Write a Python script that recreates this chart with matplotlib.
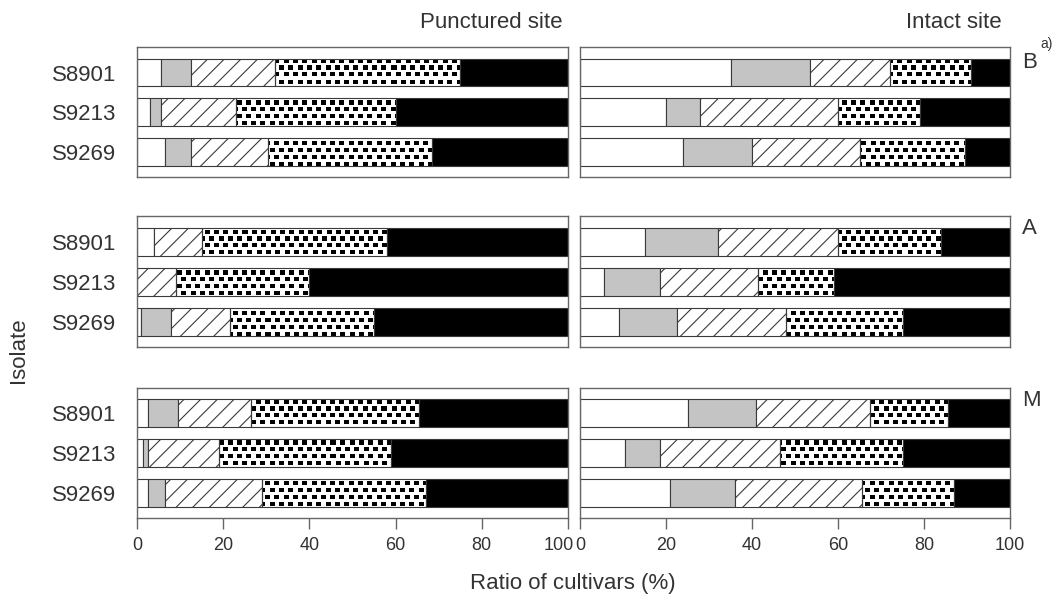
import numpy as np
import matplotlib
matplotlib.use("Agg")
import matplotlib.pyplot as plt
from matplotlib.transforms import ScaledTranslation

# isolates and panel layout: groups (rows) x sites (columns)
isolates = ["S8901", "S9213", "S9269"]
sites = ["Punctured site", "Intact site"]
groups = ["B", "A", "M"]

# percentage of cultivars per reaction class, indexed [group][site][isolate]
open_pct = [
    [[5.5, 3.0, 6.5], [35.0, 20.0, 24.0]],
    [[4.0, 0.0, 1.0], [15.0, 5.5, 9.0]],
    [[2.5, 1.5, 2.5], [25.0, 10.5, 21.0]],
]
grey_pct = [
    [[7.0, 2.5, 6.0], [18.5, 8.0, 16.0]],
    [[0.0, 0.0, 7.0], [17.0, 13.0, 13.5]],
    [[7.0, 1.0, 4.0], [16.0, 8.0, 15.0]],
]
hatched_pct = [
    [[19.5, 17.5, 18.0], [18.5, 32.0, 25.0]],
    [[11.0, 9.0, 13.5], [28.0, 23.0, 25.5]],
    [[17.0, 16.5, 22.5], [26.5, 28.0, 29.5]],
]
checked_pct = [
    [[43.0, 37.0, 38.0], [19.0, 19.0, 24.5]],
    [[43.0, 31.0, 33.5], [24.0, 17.5, 27.0]],
    [[39.0, 40.0, 38.0], [18.0, 28.5, 21.5]],
]
solid_pct = [
    [[25.0, 40.0, 31.5], [9.0, 21.0, 10.5]],
    [[42.0, 60.0, 45.0], [16.0, 41.0, 25.0]],
    [[34.5, 41.0, 33.0], [14.5, 25.0, 13.0]],
]
x_ticks = [0, 20, 40, 60, 80, 100]

W, H = 1061, 601
plt.rcParams["font.family"] = ["Liberation Sans", "DejaVu Sans"]
plt.rcParams["hatch.linewidth"] = 0.8
plt.rcParams["hatch.color"] = "#333333"

INK = "#333333"
EDGE = "#3a3a3a"
FRAME = "#666666"


def checker_fill(ax, patch):
    # staggered black dots clipped to the bar outline
    bb = patch.get_window_extent()
    x0, y0 = int(np.floor(bb.x0)), int(np.floor(bb.y0))
    w, h = max(int(np.ceil(bb.x1)) - x0, 1), max(int(np.ceil(bb.y1)) - y0, 1)
    xs = x0 + np.arange(w) + 0.5
    ys = y0 + np.arange(h) + 0.5
    X, Y = np.meshgrid(xs, ys)
    row = np.floor(Y / 6.8)
    dots = (np.mod(Y, 6.8) < 4.2) & (np.mod(X + (row % 2) * 4.65, 9.3) < 5.0)
    img = np.where(dots, 0.0, 1.0)
    inv = ax.transData.inverted()
    (dx0, dy0), (dx1, dy1) = inv.transform([(x0, y0), (x0 + w, y0 + h)])
    im = ax.imshow(img, cmap="gray", vmin=0, vmax=1, origin="lower",
                   extent=(dx0, dx1, dy0, dy1), aspect="auto",
                   interpolation="nearest", zorder=1)
    im.set_clip_path(patch)


fig = plt.figure(figsize=(W / 100, H / 100), dpi=100)
col_left = [137, 580]
col_width = [431, 430]
row_top = [46.7, 216.5, 387.5]
panel_h = 130.0
letter_y = [62, 228, 401]

y = np.arange(len(isolates))
for gi, grp in enumerate(groups):
    for si, site in enumerate(sites):
        ax = fig.add_axes([col_left[si] / W, 1 - (row_top[gi] + panel_h) / H,
                           col_width[si] / W, panel_h / H])
        ax.set_xlim(0, 100)
        ax.set_ylim(2.62, -0.65)

        left = np.zeros(len(isolates))
        layers = [
            (open_pct, dict(color="white")),
            (grey_pct, dict(color="#c4c4c4")),
            (hatched_pct, dict(color="white", hatch="//")),
            (checked_pct, dict(color="none")),
            (solid_pct, dict(color="black")),
        ]
        for li, (vals, style) in enumerate(layers):
            v = np.array(vals[gi][si])
            bars = ax.barh(y, v, left=left, height=0.7, edgecolor=EDGE,
                           linewidth=0.8, zorder=2, **style)
            if li == 3:
                for b in bars:
                    if b.get_width() > 0:
                        checker_fill(ax, b)
            left = left + v

        ax.set_xlim(0, 100)
        ax.set_ylim(2.62, -0.65)
        for sp in ax.spines.values():
            sp.set_color(FRAME)
            sp.set_linewidth(1.0)

        ax.set_yticks(y)
        if si == 0:
            ax.set_yticklabels(isolates, fontsize=16, color=INK)
        else:
            ax.set_yticklabels([])
        ax.tick_params(axis="y", length=0, pad=15)

        ax.set_xticks(x_ticks)
        if gi == len(groups) - 1:
            labels = ax.set_xticklabels([str(t) for t in x_ticks], fontsize=13,
                                        color=INK)
            ax.tick_params(axis="x", direction="out", length=8, width=1,
                           color=FRAME, pad=6)
            if si == 0:
                # nudge the last label so it clears the neighbouring "0"
                last = labels[-1]
                last.set_transform(last.get_transform()
                                   + ScaledTranslation(-0.09, 0, fig.dpi_scale_trans))
        else:
            ax.tick_params(axis="x", length=0, labelbottom=False)

    fig.text(1022 / W, 1 - letter_y[gi] / H, grp, ha="left", va="center",
             fontsize=16, color=INK)

fig.text(1040 / W, 1 - 44 / H, "a)", ha="left", va="center", fontsize=10, color=INK)
fig.text(563 / W, 1 - 22 / H, sites[0], ha="right", va="center", fontsize=16, color=INK)
fig.text(1002 / W, 1 - 22 / H, sites[1], ha="right", va="center", fontsize=16, color=INK)
fig.text(19 / W, 1 - 350 / H, "Isolate", rotation=90, ha="center", va="center",
         fontsize=16, color=INK)
fig.text(573 / W, 1 - 583 / H, "Ratio of cultivars (%)", ha="center", va="center",
         fontsize=16, color=INK)

fig.savefig("out.png", dpi=100, facecolor="white")
